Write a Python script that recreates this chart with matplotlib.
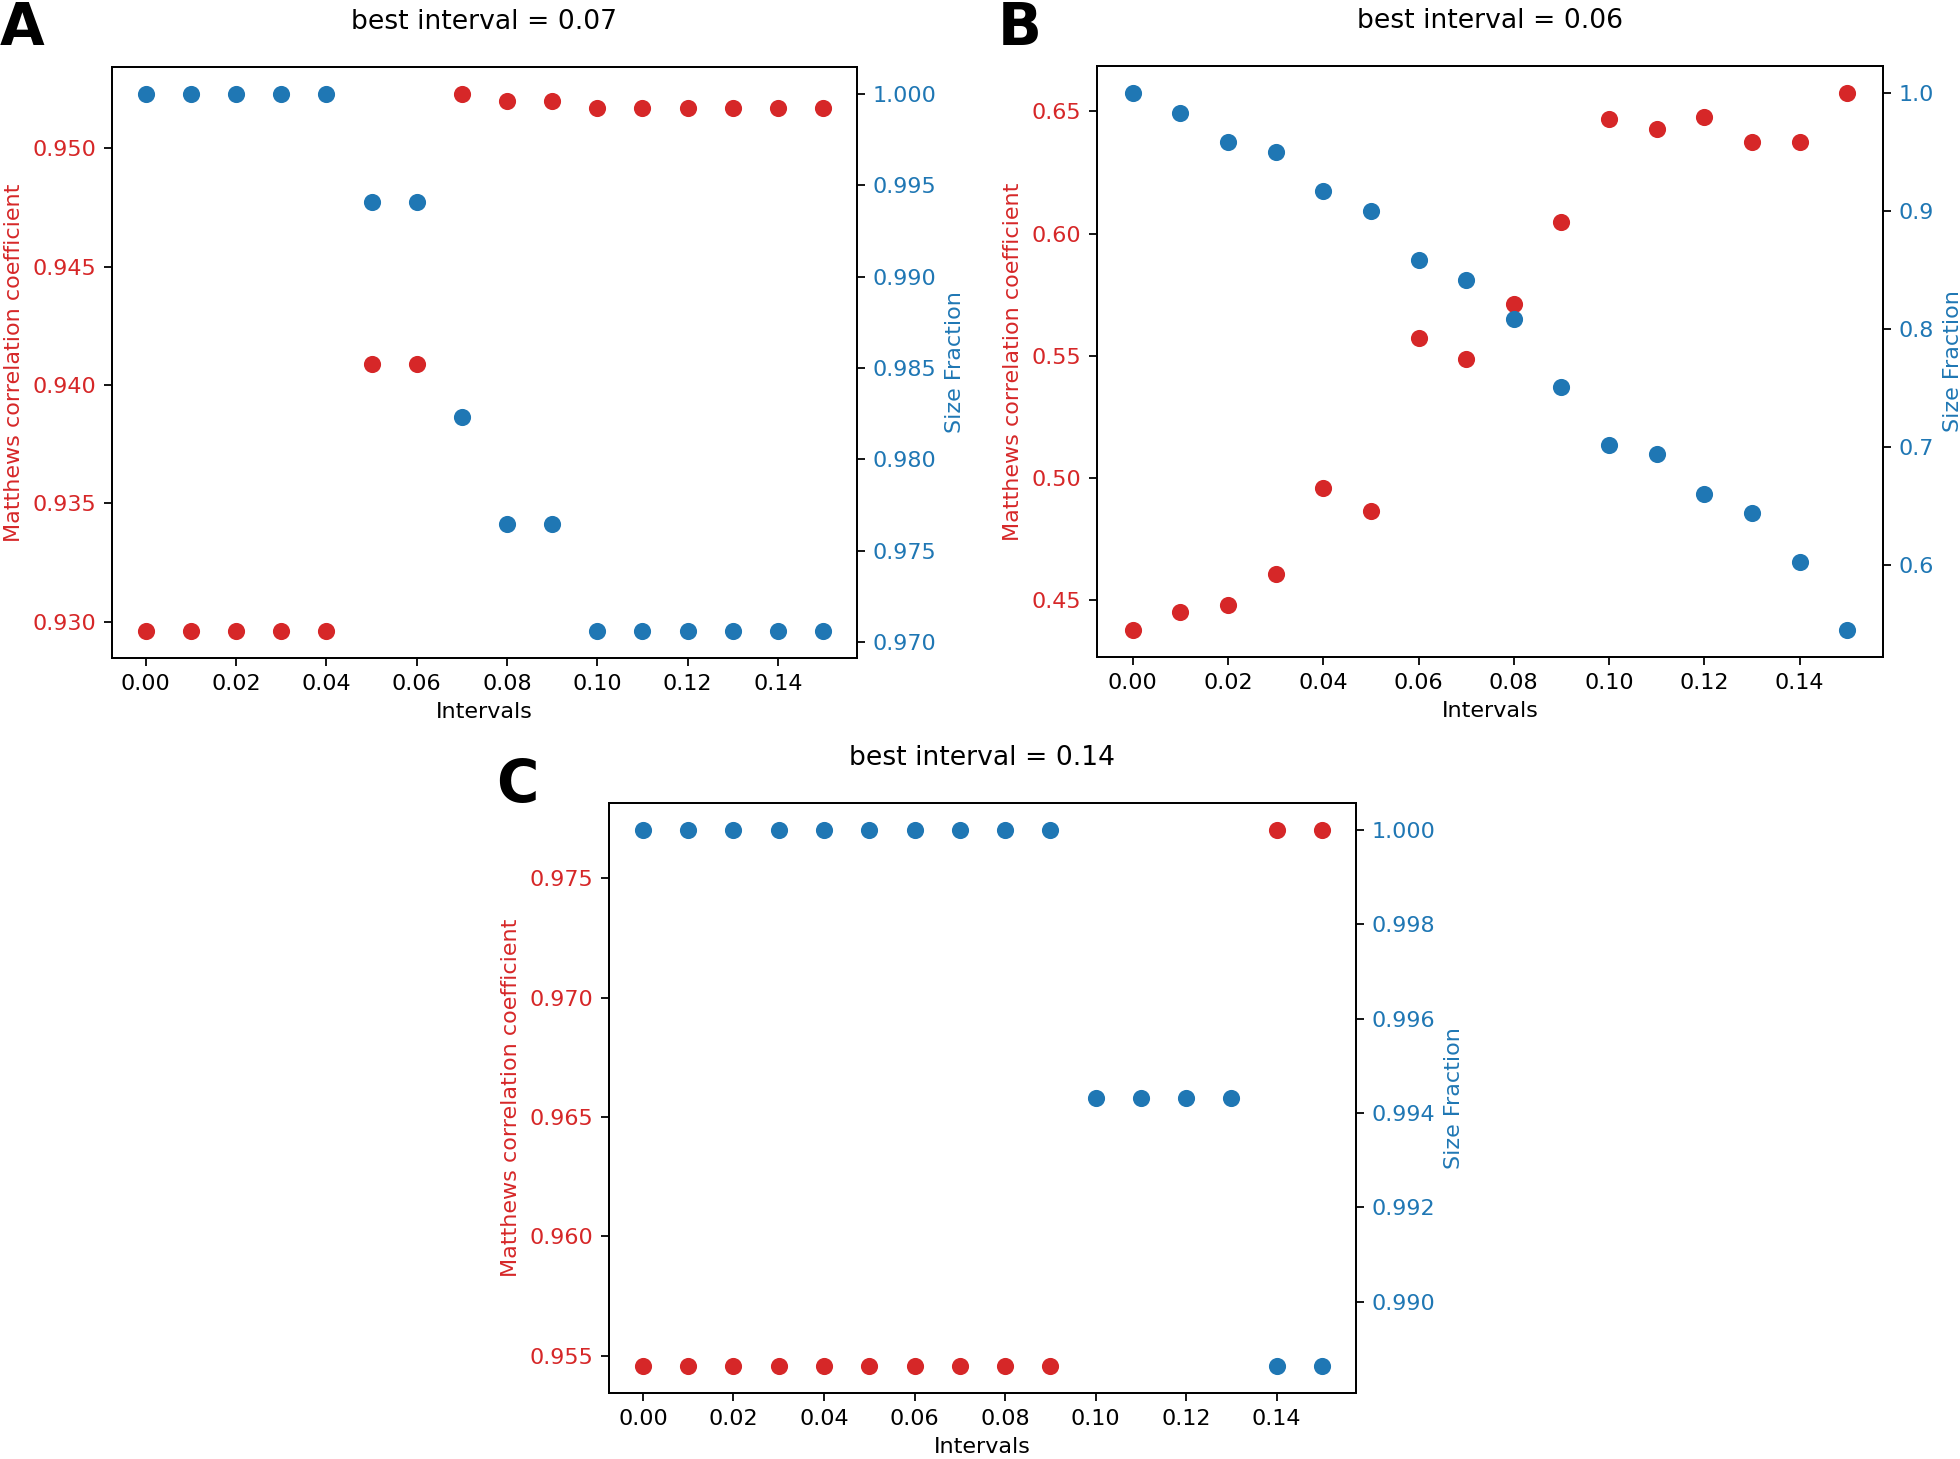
import matplotlib
matplotlib.use("Agg")
import matplotlib.pyplot as plt

intervals = [0.00, 0.01, 0.02, 0.03, 0.04, 0.05, 0.06, 0.07,
             0.08, 0.09, 0.10, 0.11, 0.12, 0.13, 0.14, 0.15]

# panel A
mcc_a = [0.9296, 0.9296, 0.9296, 0.9296, 0.9296, 0.9409, 0.9409, 0.9523,
         0.9520, 0.9520, 0.9517, 0.9517, 0.9517, 0.9517, 0.9517, 0.9517]
size_a = [1.0, 1.0, 1.0, 1.0, 1.0, 0.99407, 0.99407, 0.98234,
          0.97648, 0.97648, 0.97061, 0.97061, 0.97061, 0.97061, 0.97061, 0.97061]

# panel B
mcc_b = [0.4378, 0.4452, 0.4479, 0.4606, 0.4960, 0.4865, 0.5572, 0.5487,
         0.5711, 0.6046, 0.6470, 0.6428, 0.6479, 0.6373, 0.6373, 0.6576]
size_b = [1.0, 0.9831, 0.9587, 0.9496, 0.9169, 0.9000, 0.8587, 0.8417,
          0.8087, 0.7508, 0.7020, 0.6941, 0.6606, 0.6445, 0.6024, 0.5449]

# panel C (no red dot visible at 0.10-0.13)
mcc_c = [0.95457, 0.95457, 0.95457, 0.95457, 0.95457, 0.95457, 0.95457, 0.95457,
         0.95457, 0.95457, None, None, None, None, 0.97702, 0.97702]
size_c = [1.0, 1.0, 1.0, 1.0, 1.0, 1.0, 1.0, 1.0,
          1.0, 1.0, 0.99431, 0.99431, 0.99431, 0.99431, 0.98863, 0.98863]

best = ["0.07", "0.06", "0.14"]
letters = ["A", "B", "C"]

red = "tab:red"
blue = "tab:blue"


def draw_panel(fig, rect, mcc, size, best_txt):
    ax1 = fig.add_axes(rect)
    xs = [x for x, v in zip(intervals, mcc) if v is not None]
    ys = [v for v in mcc if v is not None]
    ax1.scatter(xs, ys, color=red, s=45)
    ax1.set_xlabel("Intervals")
    ax1.set_ylabel("Matthews correlation coefficient", color=red)
    ax1.tick_params(axis="y", labelcolor=red)
    ax1.set_xticks([0.00, 0.02, 0.04, 0.06, 0.08, 0.10, 0.12, 0.14])

    ax2 = ax1.twinx()
    ax2.scatter(intervals, size, color=blue, s=45)
    ax2.set_ylabel("Size Fraction", color=blue)
    ax2.tick_params(axis="y", labelcolor=blue)
    ax1.set_title("best interval = " + best_txt, fontsize=12, pad=17)
    return ax1, ax2


fig = plt.figure(figsize=(12.25, 9.11875), dpi=160)

draw_panel(fig, [0.0571, 0.5490, 0.3801, 0.4051], mcc_a, size_a, best[0])
draw_panel(fig, [0.5597, 0.5497, 0.4010, 0.4051], mcc_b, size_b, best[1])
draw_panel(fig, [0.3107, 0.0452, 0.3811, 0.4044], mcc_c, size_c, best[2])

fig.text(0.0, 1.0, letters[0], fontsize=26, fontweight="bold", ha="left", va="top")
fig.text(0.509, 1.0, letters[1], fontsize=26, fontweight="bold", ha="left", va="top")
fig.text(0.253, 0.481, letters[2], fontsize=26, fontweight="bold", ha="left", va="top")

fig.savefig("out.png", dpi=160)
